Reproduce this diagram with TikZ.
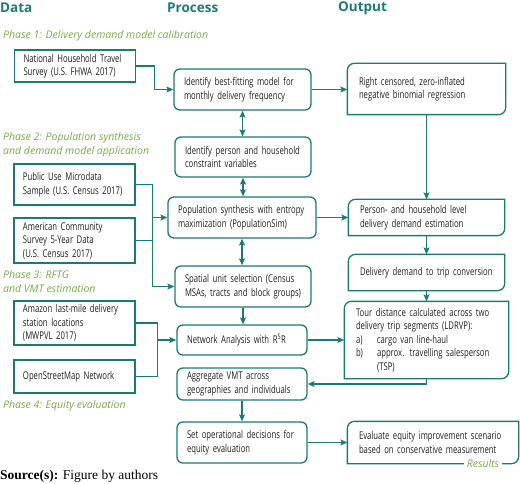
\documentclass[tikz,border=0pt]{standalone}
\usepackage{fontspec}
\usepackage{tikz}
\usetikzlibrary{
    arrows.meta,
    positioning,
    calc
}
\newfontfamily\headfont{Open Sans}
\newfontfamily\boxfont[FakeStretch=0.72]{Open Sans}
\newfontfamily\srcfont{Liberation Serif}
\definecolor{teal}{RGB}{28,122,115}
\definecolor{phasegreen}{RGB}{120,170,72}
\definecolor{boxtext}{RGB}{30,30,30}
\tikzset{
    % --- Column heading (Data / Process / Output) ---
    heading/.style = {
        font=\headfont\bfseries\fontsize{13.5}{16}\selectfont,
        text=teal, anchor=west, inner sep=0pt
    },
    % --- Phase label (green italic) ---
    phase/.style = {
        font=\headfont\itshape\fontsize{10.5}{14}\selectfont,
        text=phasegreen, anchor=west, align=left, inner sep=0pt
    },
    % --- Common box text ---
    boxbase/.style = {
        rectangle, line width=1.3pt, draw=teal, text=boxtext,
        font=\boxfont\fontsize{10.7}{13.5}\selectfont,
        align=left, inner xsep=9pt, inner ysep=2pt
    },
    % --- Data source box (sharp corners) ---
    databox/.style = {
        boxbase, text width=103pt
    },
    % --- Process box (rounded) ---
    procbox/.style = {
        boxbase, rounded corners=6pt, inner xsep=10pt
    },
    % --- Output box (border drawn by \leafborder) ---
    outbox/.style = {
        boxbase, draw=none, inner xsep=11pt
    },
    % --- Box size: text width / height ---
    sz/.style 2 args = {
        text width=#1, minimum height=#2
    },
    % --- Connectors ---
    line/.style = {
        line width=1.3pt, draw=teal
    },
    flow/.style = {
        line, -{Stealth[length=7pt,width=6pt,inset=1.5pt]}
    },
    dflow/.style = {
        line, {Stealth[length=7pt,width=6pt,inset=1.5pt]}-{Stealth[length=7pt,width=6pt,inset=1.5pt]}
    }
}
% --- Output box border: rounded top left and bottom right ---
\newcommand{\leafborder}[1]{%
    \draw[line] ([yshift=-7pt]#1.north west) -- (#1.south west)
        -- ([xshift=-7pt]#1.south east) arc[start angle=270, end angle=360, radius=7pt]
        -- (#1.north east) -- ([xshift=7pt]#1.north west)
        arc[start angle=90, end angle=180, radius=7pt] -- cycle;
}

\begin{document}
\begin{tikzpicture}[x=1pt, y=-1pt]

\useasboundingbox (0,0) rectangle (520,484);

% ---------------------------------------------------------
% Column headings and phase labels
% ---------------------------------------------------------
\node[heading] (hData) at (0,8) {Data};
\node[heading] (hProc) at (167,8) {Process};
\node[heading] (hOut) at (338,8) {Output};

\node[phase] (ph1) at (3,36) {Phase 1: Delivery demand model calibration};
\node[phase] (ph2) at (3,145) {Phase 2: Population synthesis\\and demand model application};
\node[phase] (ph3) at (3,282) {Phase 3: RFTG\\and VMT estimation};
\node[phase] (ph4) at (3,406) {Phase 4: Equity evaluation};

% ---------------------------------------------------------
% Data column
% ---------------------------------------------------------
\node[databox, minimum height=32pt] (D1) at (75,66) {National Household Travel\\Survey (U.S. FHWA 2017)};
\node[databox, minimum height=41pt] (D2) at (74.5,184.5) {Public Use Microdata\\Sample (U.S. Census 2017)};
\node[databox, minimum height=45pt] (D3) at (74.5,240.5) {American Community\\Survey 5-Year Data\\(U.S. Census 2017)};
\node[databox, minimum height=44pt] (D4) at (74.5,323) {Amazon last-mile delivery\\station locations\\(MWPVL 2017)};
\node[databox, minimum height=33pt] (D5) at (74.5,376.5) {OpenStreetMap Network};

% ---------------------------------------------------------
% Process column
% ---------------------------------------------------------
\node[procbox, sz={117pt}{41pt}] (P1) at (242.5,89.5) {Identify best-fitting model for\\monthly delivery frequency};
\node[procbox, sz={116pt}{40pt}] (P2) at (243,157) {Identify person and household\\constraint variables};
\node[procbox, sz={128pt}{41pt}] (P3) at (242,217.5) {Population synthesis with entropy\\maximization (PopulationSim)};
\node[procbox, sz={116pt}{41pt}] (P4) at (243,286.5) {Spatial unit selection (Census\\MSAs, tracts and block groups)};
\node[procbox, sz={110pt}{30pt}] (P5) at (242,340) {Network Analysis with R\textsuperscript{5}R};
\node[procbox, sz={110pt}{32pt}] (P6) at (242,384) {Aggregate VMT across\\geographies and individuals};
\node[procbox, sz={110pt}{41pt}] (P7) at (242,442.5) {Set operational decisions for\\equity evaluation};

% ---------------------------------------------------------
% Output column
% ---------------------------------------------------------
\node[outbox, sz={135pt}{50pt}] (O1) at (426.5,89) {Right censored, zero-inflated\\negative binomial regression};
\node[outbox, sz={133pt}{35pt}] (O2) at (426.5,217.5) {Person- and household level\\delivery demand estimation};
\node[outbox, sz={133pt}{35pt}] (O3) at (426.5,272.5) {Delivery demand to trip conversion};
\node[outbox, sz={141pt}{76pt}] (O4) at (426.5,340) {Tour distance calculated across two\\delivery trip segments (LDRVP):\\\makebox[21pt][l]{a)}cargo van line-haul\\\makebox[21pt][l]{b)}approx. travelling salesperson\\\hspace*{21pt}(TSP)};
\node[outbox, sz={148pt}{41pt}] (O5) at (433,442.5) {Evaluate equity improvement scenario\\based on conservative measurement};

\foreach \o in {O1, O2, O3, O4, O5} {
    \leafborder{\o}
}

\node[phase, anchor=center, fill=white, inner xsep=3pt, inner ysep=1pt] (res) at (483,464) {Results};

% ---------------------------------------------------------
% Connectors
% ---------------------------------------------------------
\draw[flow] (D1.east) -- ++(18,0) |- (P1.west);
\draw[flow] (P1.east) -- (P1.east -| O1.west);

\draw[dflow] (P1.south) -- (P1.south |- P2.north);
\draw[dflow] (P2.south) -- (P2.south |- P3.north);
\draw[dflow] (P3.south) -- (P3.south |- P4.north);
\draw[flow] (P4.south) -- (P4.south |- P5.north);

% census inputs
\draw[line] (D2.east) -- ++(17,0) coordinate (b1) -- (b1 |- P4.west);
\draw[line] (D3.east) -- (D3.east -| b1);
\draw[flow] (b1 |- P3.west) -- (P3.west);
\draw[flow] (b1 |- P4.west) -- (P4.west);

% network inputs
\draw[line] (D4.east) -- ++(22,0) coordinate (b2) -- (b2 |- D5.east) -- (D5.east);
\draw[flow] (b2 |- P5.west) -- (P5.west);

\draw[flow] (P3.east) -- (P3.east -| O2.west);
\draw[flow] (P5.east) -- (P5.east -| O4.west);
\draw[flow] (P7.east) -- (P7.east -| O5.west);

\draw[flow] (O1.south) -- (O2.north);
\draw[flow] (O2.south) -- (O3.north);
\draw[flow] (O3.south) -- (O4.north);
\draw[flow] (O4.south) |- (P6.east);
\draw[flow] (P6.south) -- (P6.south |- P7.north);

% ---------------------------------------------------------
% Source line
% ---------------------------------------------------------
\node[anchor=west, inner sep=0pt, font=\srcfont\fontsize{13.5}{16}\selectfont] (src) at (0,476) {\textbf{Source(s):} Figure by authors};

\end{tikzpicture}
\end{document}
